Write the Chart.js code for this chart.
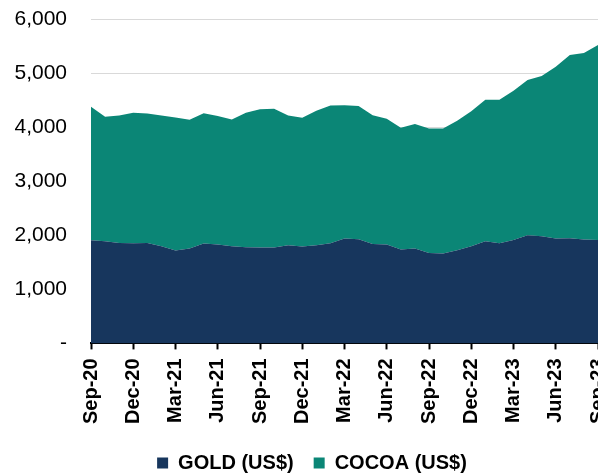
<!DOCTYPE html>
<html lang="en">
<head>
  <meta charset="UTF-8" />
  <title>Gold and cocoa prices</title>
  <script src="https://cdn.jsdelivr.net/npm/chart.js"></script>
  <style>
    html, body { margin: 0; padding: 0; background: #fff; overflow: hidden; }
    .wrap { width: 598px; height: 474px; }
  </style>
</head>
<body>
  <div class="wrap"><canvas id="chart" width="598" height="474"></canvas></div>
  <script>
    const months = [
      "Sep-20", "Oct-20", "Nov-20", "Dec-20", "Jan-21", "Feb-21", "Mar-21", "Apr-21", "May-21",
      "Jun-21", "Jul-21", "Aug-21", "Sep-21", "Oct-21", "Nov-21", "Dec-21", "Jan-22", "Feb-22",
      "Mar-22", "Apr-22", "May-22", "Jun-22", "Jul-22", "Aug-22", "Sep-22", "Oct-22", "Nov-22",
      "Dec-22", "Jan-23", "Feb-23", "Mar-23", "Apr-23", "May-23", "Jun-23", "Jul-23", "Aug-23",
      "Sep-23"
    ];
    const gold = [
      1907, 1889, 1858, 1852, 1858, 1796, 1716, 1753, 1846, 1827, 1796, 1778, 1772,
      1772, 1815, 1790, 1815, 1852, 1941, 1926, 1839, 1827, 1735, 1753, 1673, 1661,
      1722, 1796, 1889, 1852, 1913, 2000, 1981, 1938, 1944, 1920, 1913
    ];
    const cocoa = [
      2469, 2302, 2358, 2413, 2395, 2420, 2463, 2383, 2413, 2377, 2346, 2487, 2561,
      2567, 2401, 2383, 2487, 2546, 2463, 2463, 2383, 2327, 2252, 2303, 2302, 2314,
      2395, 2500, 2617, 2654, 2760, 2870, 2963, 3179, 3389, 3450, 3606
    ];
    const yTicks = [0, 1000, 2000, 3000, 4000, 5000, 6000];

    const navy = "#17365d";
    const teal = "#0b8676";
    const font = "Arial, 'Liberation Sans'";

    // the legend in the original sits a little right of centre
    const legendShift = {
      id: "legendShift",
      afterLayout(chart) {
        chart.legend.left += 13;
        chart.legend.right += 13;
      }
    };

    new Chart(document.getElementById("chart"), {
      type: "line",
      data: {
        labels: months,
        datasets: [
          {
            label: "GOLD (US$)",
            data: gold,
            backgroundColor: navy,
            borderColor: navy,
            borderWidth: 0,
            pointRadius: 0,
            fill: "origin"
          },
          {
            label: "COCOA (US$)",
            data: cocoa,
            backgroundColor: teal,
            borderColor: teal,
            borderWidth: 0,
            pointRadius: 0,
            fill: "-1"
          }
        ]
      },
      plugins: [legendShift],
      options: {
        responsive: false,
        animation: false,
        layout: { padding: { top: 19, left: 0, right: 0, bottom: -9 } },
        scales: {
          x: {
            offset: false,
            grid: {
              drawOnChartArea: false,
              tickLength: 6,
              tickColor: "#000",
              tickWidth: 2
            },
            border: { color: "#000", width: 2 },
            ticks: {
              autoSkip: false,
              minRotation: 90,
              maxRotation: 90,
              padding: 9,
              color: "#000",
              font: { family: font, size: 20, weight: "bold" },
              callback: function (v, i) {
                return i % 3 === 0 ? this.getLabelForValue(v) : null;
              }
            },
            afterFit: s => { s.paddingRight = 0; }
          },
          y: {
            stacked: true,
            min: yTicks[0],
            max: yTicks[yTicks.length - 1],
            grid: { color: "#d9d9d9", lineWidth: 1, drawTicks: false },
            border: { display: false },
            ticks: {
              stepSize: 1000,
              padding: 24,
              color: "#000",
              font: { family: font, size: 21 },
              callback: v => v === 0 ? "-" : v.toLocaleString("en-US")
            },
            afterFit: s => { s.width = 91; s.paddingTop = 0; }
          }
        },
        plugins: {
          legend: {
            position: "bottom",
            labels: {
              boxWidth: 11,
              boxHeight: 11,
              padding: 20,
              color: "#000",
              font: { family: font, size: 20, weight: "bold" }
            }
          },
          tooltip: { enabled: false }
        }
      }
    });
  </script>
</body>
</html>
